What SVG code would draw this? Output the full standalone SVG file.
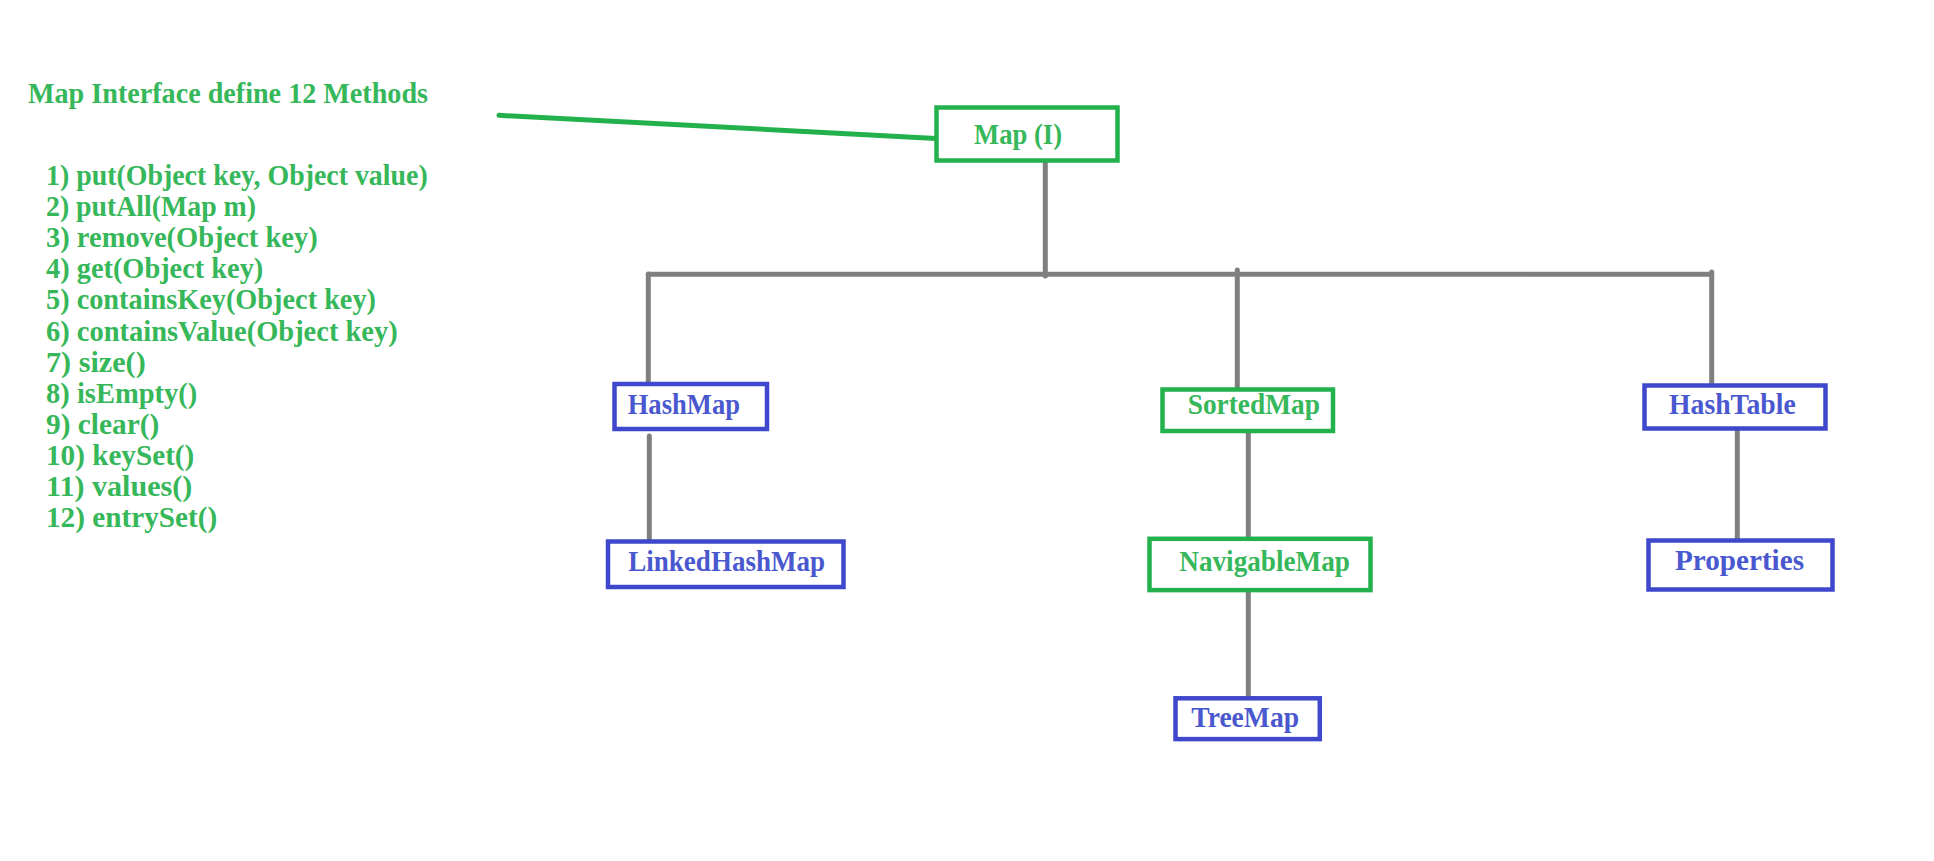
<svg xmlns="http://www.w3.org/2000/svg" width="1934" height="861" viewBox="0 0 1934 861">
  <style>
    text { font-family: "Liberation Serif", "Times New Roman", serif; font-weight: bold; font-size: 28.5px; }
    .gt { fill: #36b75a; }
    .bt { fill: #4a58cf; }
    .gbox { fill: #ffffff; stroke: #22b14c; stroke-width: 4.5; }
    .bbox { fill: #ffffff; stroke: #3f48cc; stroke-width: 4.5; }
    .link { stroke: #7f7f7f; stroke-width: 5; stroke-linecap: round; fill: none; }
    .note { stroke: #22b14c; stroke-width: 5; stroke-linecap: round; fill: none; }
  </style>
  <rect width="1934" height="861" fill="#ffffff"/>

  <!-- method list -->
  <g id="methods" class="gt" lengthAdjust="spacingAndGlyphs">
    <text x="28" y="102.5" textLength="400" lengthAdjust="spacingAndGlyphs">Map Interface define 12 Methods</text>
    <text x="46" y="185" textLength="381.7" lengthAdjust="spacingAndGlyphs">1) put(Object key, Object value)</text>
    <text x="46" y="216.1" textLength="210" lengthAdjust="spacingAndGlyphs">2) putAll(Map m)</text>
    <text x="46" y="247.2" textLength="271.7" lengthAdjust="spacingAndGlyphs">3) remove(Object key)</text>
    <text x="46" y="278.3" textLength="217.3" lengthAdjust="spacingAndGlyphs">4) get(Object key)</text>
    <text x="46" y="309.4" textLength="330" lengthAdjust="spacingAndGlyphs">5) containsKey(Object key)</text>
    <text x="46" y="340.5" textLength="351.7" lengthAdjust="spacingAndGlyphs">6) containsValue(Object key)</text>
    <text x="46" y="371.6" textLength="99.7" lengthAdjust="spacingAndGlyphs">7) size()</text>
    <text x="46" y="402.7" textLength="151.3" lengthAdjust="spacingAndGlyphs">8) isEmpty()</text>
    <text x="46" y="433.8" textLength="113.3" lengthAdjust="spacingAndGlyphs">9) clear()</text>
    <text x="46" y="464.9" textLength="148.3" lengthAdjust="spacingAndGlyphs">10) keySet()</text>
    <text x="46" y="496" textLength="146.3" lengthAdjust="spacingAndGlyphs">11) values()</text>
    <text x="46" y="527.1" textLength="171.3" lengthAdjust="spacingAndGlyphs">12) entrySet()</text>
  </g>

  <!-- connectors -->
  <g id="connectors">
    <line class="note" x1="499" y1="115.3" x2="936" y2="138.5"/>
    <line class="link" x1="1045.3" y1="160" x2="1045.3" y2="276"/>
    <line class="link" x1="648.3" y1="274.3" x2="1711.7" y2="274.3"/>
    <line class="link" x1="648.3" y1="274" x2="648.3" y2="386"/>
    <line class="link" x1="1237.3" y1="270" x2="1237.3" y2="388"/>
    <line class="link" x1="1711.7" y1="272" x2="1711.7" y2="384"/>
    <line class="link" x1="649.3" y1="436" x2="649.3" y2="543"/>
    <line class="link" x1="1248.3" y1="430" x2="1248.3" y2="536"/>
    <line class="link" x1="1248.3" y1="590" x2="1248.3" y2="695"/>
    <line class="link" x1="1737.3" y1="426" x2="1737.3" y2="546.5"/>
  </g>

  <g id="map">
    <rect class="gbox" x="936.5" y="107.5" width="181" height="53"/>
    <text class="gt" x="974" y="144" textLength="88" lengthAdjust="spacingAndGlyphs">Map (I)</text>
  </g>
  <g id="hashmap">
    <rect class="bbox" x="614.5" y="384" width="152.5" height="45"/>
    <text class="bt" x="627.7" y="414" textLength="112.3" lengthAdjust="spacingAndGlyphs">HashMap</text>
  </g>
  <g id="linkedhashmap">
    <rect class="bbox" x="608" y="541.5" width="235.5" height="45.5"/>
    <text class="bt" x="628.3" y="570.7" textLength="196.7" lengthAdjust="spacingAndGlyphs">LinkedHashMap</text>
  </g>
  <g id="sortedmap">
    <rect class="gbox" x="1162.5" y="389.5" width="170.5" height="41.5"/>
    <text class="gt" x="1187.7" y="414" textLength="132.3" lengthAdjust="spacingAndGlyphs">SortedMap</text>
  </g>
  <g id="navigablemap">
    <rect class="gbox" x="1149.5" y="538.8" width="221" height="51.3"/>
    <text class="gt" x="1179.3" y="570.7" textLength="170.7" lengthAdjust="spacingAndGlyphs">NavigableMap</text>
  </g>
  <g id="treemap">
    <rect class="bbox" x="1175.5" y="698.3" width="144.3" height="40.8"/>
    <text class="bt" x="1191.3" y="726.7" textLength="107.7" lengthAdjust="spacingAndGlyphs">TreeMap</text>
  </g>
  <g id="hashtable">
    <rect class="bbox" x="1644.5" y="385.5" width="181" height="43"/>
    <text class="bt" x="1669" y="414" textLength="126.7" lengthAdjust="spacingAndGlyphs">HashTable</text>
  </g>
  <g id="properties">
    <rect class="bbox" x="1648.5" y="540.5" width="184" height="49"/>
    <text class="bt" x="1675" y="570" textLength="129" lengthAdjust="spacingAndGlyphs">Properties</text>
  </g>
</svg>
